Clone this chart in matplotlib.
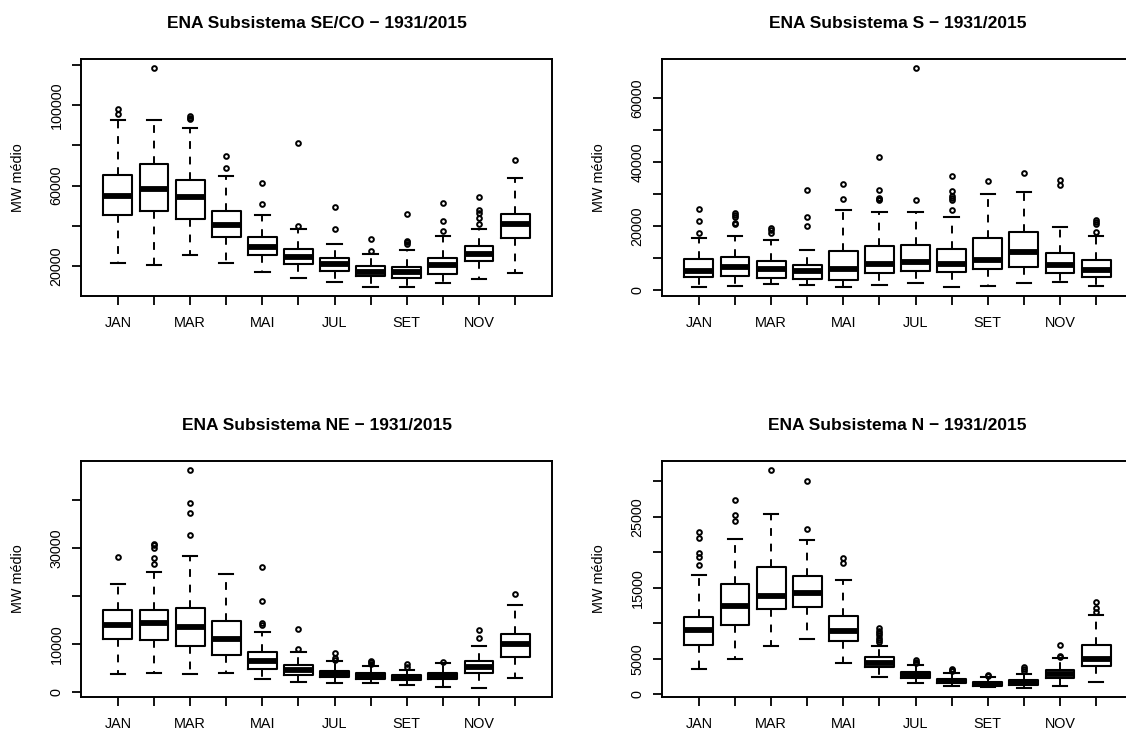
import matplotlib
matplotlib.use("Agg")
import matplotlib.pyplot as plt

plt.rcParams['font.family'] = ['Liberation Sans', 'DejaVu Sans']

months = ['JAN', 'FEV', 'MAR', 'ABR', 'MAI', 'JUN', 'JUL', 'AGO', 'SET', 'OUT', 'NOV', 'DEZ']

# box stats per month: whisker low, Q1, median, Q3, whisker high
seco_lo = [21650, 20500, 25450, 21650, 17200, 14200, 11900, 9750, 9600, 11400, 13700, 16700]
seco_q1 = [45600, 47400, 43300, 34550, 25450, 20800, 17500, 14900, 13900, 15850, 22500, 34050]
seco_md = [54700, 58200, 54400, 40300, 29600, 24450, 21000, 17200, 16850, 20650, 26100, 40650]
seco_q3 = [65460, 70600, 62650, 47400, 34400, 28250, 24100, 19850, 19650, 23950, 29900, 45950]
seco_hi = [92400, 92400, 88800, 64600, 45450, 38500, 31050, 26100, 28100, 34900, 38500, 63800]
seco_out = [[98350, 95400], [118500], [94400, 93700, 93200], [74700, 68750], [61150, 50600],
            [39850, 81150], [49600, 38500], [33400, 27300], [45950, 32400, 31700, 30900],
            [51400, 42150, 37350], [54400, 48100, 46450, 43650, 40850], [72900]]

s_lo = [1050, 1350, 2000, 1450, 850, 1650, 2100, 1050, 1350, 2300, 2500, 1250]
s_q1 = [4150, 4350, 3850, 3550, 3100, 5300, 6050, 5600, 6650, 7200, 5400, 4050]
s_md = [6050, 7050, 6550, 5800, 6450, 8300, 8750, 8000, 9450, 11850, 7800, 6150]
s_q3 = [9650, 10400, 8950, 7700, 12150, 13750, 14150, 12800, 16200, 18300, 11650, 9450]
s_hi = [16200, 16950, 15800, 12500, 24950, 24550, 24550, 22800, 30050, 30600, 19650, 16950]
s_out = [[25300, 21650, 17800], [24250, 23600, 22900, 21000, 20700], [19450, 18700, 18000],
         [31300, 22800, 20100], [33300, 28600], [41500, 31400, 28800, 28400, 28100],
         [69500, 28100], [35550, 31100, 29550, 28800, 28100, 24950], [34200], [36500],
         [34550, 32950], [21850, 21200, 20600, 18200]]

ne_lo = [3720, 4060, 3850, 4060, 2750, 2060, 1860, 1790, 1380, 960, 890, 2890]
ne_q1 = [11080, 10870, 9630, 7770, 4880, 3650, 3160, 2750, 2410, 2680, 3990, 7220]
ne_md = [14030, 14300, 13480, 11080, 6470, 4610, 3850, 3370, 2960, 3440, 5300, 9980]
ne_q3 = [17000, 17000, 17540, 14720, 8260, 5640, 4470, 3920, 3510, 4060, 6540, 12180]
ne_hi = [22570, 25040, 28280, 24700, 12590, 8260, 6400, 5430, 4680, 6050, 9630, 18160]
ne_out = [[28140], [30960, 30550, 30130, 27860, 26760], [46230, 39350, 37420, 32680], [],
          [26080, 18920, 14310, 13970], [13210, 9010], [8050, 7020, 6740], [6540, 6190, 5850],
          [5850, 5160], [6190], [12870, 11280], [20430]]

n_lo = [3540, 4940, 6760, 7780, 4470, 2420, 1580, 1170, 980, 840, 1210, 1680]
n_q1 = [6900, 9790, 12020, 12260, 7500, 3820, 2280, 1540, 1210, 1300, 2240, 4050]
n_md = [9090, 12400, 13790, 14260, 8950, 4430, 2750, 1860, 1490, 1680, 2890, 4940]
n_q3 = [10950, 15560, 17940, 16680, 11090, 5270, 3170, 2190, 1770, 2050, 3450, 6990]
n_hi = [16820, 21900, 25350, 21760, 16080, 6760, 4100, 2940, 2380, 2800, 5080, 11230]
n_out = [[22830, 22040, 19900, 19340, 18270], [27400, 25260, 24470], [31590], [30060, 23300],
         [19200, 18500], [9370, 8990, 8620, 8290, 7970, 7690, 7360], [4890, 4610, 4430],
         [3590, 3400, 3260], [2750, 2610], [3820, 3590, 3360], [6940, 5450, 5270],
         [13050, 12120, 11650]]

titles = ['ENA Subsistema SE/CO \u2212 1931/2015', 'ENA Subsistema S \u2212 1931/2015',
          'ENA Subsistema NE \u2212 1931/2015', 'ENA Subsistema N \u2212 1931/2015']

seco_ticks = [20000, 40000, 60000, 80000, 100000, 120000]
seco_labels = ['20000', '', '60000', '', '100000', '']
s_ticks = [0, 10000, 20000, 30000, 40000, 50000, 60000]
s_labels = ['0', '', '20000', '', '40000', '', '60000']
ne_ticks = [0, 10000, 20000, 30000, 40000]
ne_labels = ['0', '10000', '', '30000', '']
n_ticks = [0, 5000, 10000, 15000, 20000, 25000, 30000]
n_labels = ['0', '5000', '', '15000', '', '25000', '']

panels = [
    (seco_lo, seco_q1, seco_md, seco_q3, seco_hi, seco_out, seco_ticks, seco_labels, (5070, 123000)),
    (s_lo, s_q1, s_md, s_q3, s_hi, s_out, s_ticks, s_labels, (-1870, 72300)),
    (ne_lo, ne_q1, ne_md, ne_q3, ne_hi, ne_out, ne_ticks, ne_labels, (-1030, 48160)),
    (n_lo, n_q1, n_md, n_q3, n_hi, n_out, n_ticks, n_labels, (-370, 32850)),
]

W, H = 1126, 731
fig = plt.figure(figsize=(W / 100, H / 100), dpi=100)

# pixel boxes (left, top, right, bottom) of each plot region
rects = [(81, 59, 552, 296), (662, 59, 1133, 296), (81, 461, 552, 697), (662, 461, 1133, 697)]

for k, (lo, q1, md, q3, hi, outs, yt, yl, ylim) in enumerate(panels):
    l, t, r, b = rects[k]
    ax = fig.add_axes([l / W, (H - b) / H, (r - l) / W, (b - t) / H])
    stats = []
    for i in range(12):
        stats.append(dict(whislo=lo[i], q1=q1[i], med=md[i], q3=q3[i], whishi=hi[i], fliers=outs[i]))
    ax.bxp(stats, positions=range(1, 13), widths=0.8, capwidths=0.4,
           boxprops=dict(color='black', linewidth=1.5),
           medianprops=dict(color='black', linewidth=4.2, solid_capstyle='butt'),
           whiskerprops=dict(color='black', linewidth=1.4, linestyle=(0, (4, 4))),
           capprops=dict(color='black', linewidth=1.5),
           flierprops=dict(marker='o', markersize=3.4, markerfacecolor='none',
                           markeredgecolor='black', markeredgewidth=1.4))
    ax.set_xlim(-0.02, 13.02)
    ax.set_ylim(*ylim)
    ax.set_xticks(range(1, 13))
    ax.set_xticklabels([m if i % 2 == 0 else '' for i, m in enumerate(months)])
    ax.set_yticks(yt)
    ax.set_yticklabels(yl, rotation=90, va='center')
    ax.tick_params(axis='both', length=6.5, width=1.3, labelsize=10.4, color='black')
    ax.tick_params(axis='x', pad=8)
    ax.tick_params(axis='y', pad=6)
    for sp in ax.spines.values():
        sp.set_linewidth(1.4)
    ax.set_ylabel('MW m\u00e9dio', fontsize=10.4)
    ax.yaxis.set_label_coords(-0.118, 0.5)
    ax.set_title(titles[k], fontsize=12.5, fontweight='bold', pad=22)

fig.savefig('out.png', dpi=100)
